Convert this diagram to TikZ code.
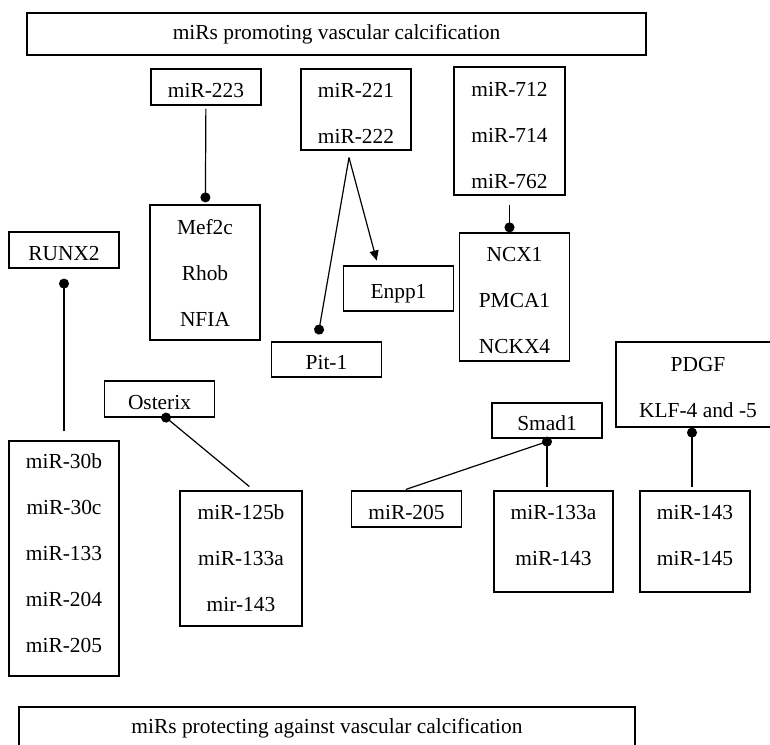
\documentclass[tikz,border=0pt]{standalone}
\usepackage{fontspec}
\setmainfont{Liberation Serif}
\usepackage{tikz}
\usetikzlibrary{positioning,arrows.meta}
\tikzset{
  figbox/.style={draw, line width=0.6pt, inner sep=0pt, align=center,
    font=\fontsize{10.7}{23}\selectfont, minimum width=55pt, minimum height=18pt},
  figone/.style={figbox, text height=10.3pt, text depth=0pt},
  figlist/.style={figbox, text depth=#1},
  figarrow/.style={-{Triangle[length=5pt,width=4.5pt]}, line width=0.6pt},
  figdot/.style={-{Circle[length=5pt]}, line width=0.6pt},
}

\begin{document}
\begin{tikzpicture}[x=0.5pt, y=-0.5pt]
  \useasboundingbox (0,0) rectangle (770,744);
  \node[figbox, minimum width=309.5pt, minimum height=21pt] (promo) at (336.5,34) {miRs promoting vascular calcification};
  \node[figone] (m223) at (206,87) {miR-223};
  \node[figlist=0pt, text height=34.3pt, minimum height=40.5pt] (m221) at (356,109.5) {miR-221\\miR-222};
  \node[figlist=0pt, text height=57.3pt, minimum width=55.5pt, minimum height=64pt] (m712) at (509.5,131) {miR-712\\miR-714\\miR-762};
  \node[figlist=0pt, minimum height=67.5pt] (mef) at (205,272.5) {Mef2c\\Rhob\\NFIA};
  \node[figone] (runx) at (64,250) {RUNX2};
  \node[figone, minimum height=22.5pt] (enpp) at (398.5,288.5) {Enpp1};
  \node[figlist=0pt, text height=56.1pt, minimum height=64pt] (ncx) at (514.5,297) {NCX1\\PMCA1\\NCKX4};
  \node[figone, minimum height=17.5pt] (pit) at (326.5,359.5) {Pit-1};
  \node[figone] (osx) at (159.5,399) {Osterix};
  \node[figone, minimum height=17.5pt] (smad) at (547,420.5) {Smad1};
  \node[figlist=0pt, text height=32.6pt, minimum width=82pt, minimum height=42.5pt] (pdgf) at (698,384.5) {PDGF\\KLF-4 and -5};
  \node[figlist=5pt, minimum height=117.5pt] (m30) at (64,558.5) {miR-30b\\miR-30c\\miR-133\\miR-204\\miR-205};
  \node[figlist=0pt, minimum width=61pt, minimum height=67.5pt] (m125) at (241,558.5) {miR-125b\\miR-133a\\mir-143};
  \node[figone] (m205) at (406.5,509) {miR-205};
  \node[figlist=6pt, minimum width=59.5pt, minimum height=50.5pt] (m133) at (553.5,541.5) {miR-133a\\miR-143};
  \node[figlist=6pt, minimum height=50.5pt] (m143) at (695,541.5) {miR-143\\miR-145};
  \node[figbox, minimum width=308pt, minimum height=21.5pt] (prot) at (327,728.5) {miRs protecting against vascular calcification};
  \coordinate (apex) at ([xshift=-3.5pt, yshift=-3.5pt]m221.south);
  \coordinate (smaddot) at ([yshift=-1.5pt]smad.south);
  \draw[figdot, shorten <=1.5pt, shorten >=1pt] (m223) -- (mef);
  \draw[figarrow, shorten >=2.5pt] (apex) -- ([xshift=-10.25pt]enpp.north);
  \draw[figdot, shorten >=3.5pt] (apex) -- ([xshift=-4.75pt]pit.north);
  \draw[figdot, shorten <=4.5pt] (m712.south) -- (m712.south |- ncx.north);
  \draw[figdot, shorten <=4.5pt, shorten >=5pt] (m30) -- (runx);
  \draw[figdot, shorten <=3pt, shorten >=-2.5pt] ([xshift=6.5pt]m125.north) -- ([xshift=3.25pt]osx.south);
  \draw[line width=0.6pt, shorten <=1.5pt] ([xshift=-1.75pt]m205.north) -- (smaddot);
  \draw[figdot, shorten <=1.5pt, shorten >=-2.5pt] (m133.north -| smaddot) -- (smaddot);
  \draw[figdot, shorten <=1.5pt] ([xshift=-1.5pt]m143.north) -- ([xshift=-3pt]pdgf.south);
\end{tikzpicture}
\end{document}
